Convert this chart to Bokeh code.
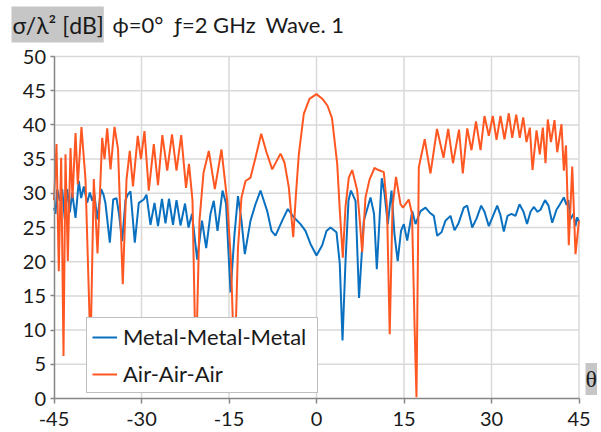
from bokeh.plotting import figure
from bokeh.models import FixedTicker, Label, Legend, LegendItem, LinearAxis, Grid, Range1d
from bokeh.embed import file_html
from bokeh.resources import INLINE

# ---------------- data ----------------
theta_metal = [
    -45.0, -44.74, -44.45, -44.00, -43.59, -43.15, -42.74, -42.29, -41.88, -41.31,
    -40.75, -40.34, -39.89, -39.31, -38.86, -38.45, -38.06, -37.59, -36.91, -36.51,
    -36.17, -35.43, -34.85, -34.29, -33.86, -33.31, -32.74, -32.35, -31.89, -31.15,
    -30.46, -29.61, -29.14, -28.46, -27.77, -27.17, -26.49, -25.89, -25.29, -24.60,
    -24.00, -23.31, -22.54, -21.94, -21.34, -20.45, -19.63, -18.91, -18.17, -17.61,
    -16.97, -16.11, -15.51, -14.74, -14.06, -13.46, -12.86, -12.29, -11.31, -10.46,
    -9.60, -8.45, -7.71, -7.03, -5.88, -4.92, -3.89, -2.74, -1.89, -1.03,
    0.0, 0.98, 1.71, 2.40, 3.43, 3.99, 4.46, 4.97, 5.49, 5.91,
    6.69, 7.29, 8.11, 9.26, 9.86, 10.34, 11.19, 11.66, 12.22, 12.86,
    13.37, 13.92, 14.49, 14.97, 15.55, 16.41, 16.97, 17.83, 18.69, 19.37,
    20.11, 20.69, 21.43, 22.11, 22.97, 23.66, 24.34, 25.25, 25.83, 26.69,
    27.43, 28.23, 28.80, 29.54, 30.26, 30.98, 31.54, 32.11, 32.74, 33.43,
    34.11, 34.80, 35.49, 36.09, 36.69, 37.25, 37.89, 38.40, 39.17, 39.77,
    40.41, 41.14, 41.66, 42.40, 42.86, 43.17, 43.54, 44.06, 44.40, 44.69,
    45.0,
]
db_metal = [
    27.9, 27.0, 30.6, 28.9, 30.6, 26.2, 30.6, 27.2, 30.1, 26.4,
    31.8, 29.3, 31.0, 28.6, 30.1, 28.9, 29.8, 26.2, 30.6, 29.8,
    28.5, 22.8, 29.1, 29.3, 27.0, 23.0, 29.0, 29.8, 30.3, 22.8,
    28.6, 29.1, 29.8, 25.4, 28.6, 25.2, 29.2, 25.6, 29.2, 25.4,
    29.0, 25.3, 28.5, 25.0, 27.0, 20.3, 26.0, 22.0, 27.0, 28.9,
    24.5, 30.4, 28.5, 15.5, 24.0, 29.6, 26.0, 21.1, 26.0, 28.4,
    30.4, 27.4, 24.5, 23.8, 26.0, 27.7, 26.5, 25.5, 24.5, 22.6,
    20.9, 22.4, 24.5, 25.0, 24.3, 19.7, 8.5, 20.0, 29.0, 30.4,
    28.9, 14.7, 26.0, 29.4, 27.0, 18.9, 32.2, 30.0, 25.5, 30.4,
    24.0, 20.1, 24.5, 25.5, 23.1, 27.4, 25.5, 27.4, 27.9, 27.2,
    26.7, 23.8, 24.3, 26.0, 26.7, 24.6, 25.6, 27.9, 28.2, 25.0,
    26.3, 28.2, 27.3, 25.2, 26.7, 28.2, 26.8, 24.4, 26.7, 27.0,
    26.7, 28.4, 27.3, 25.5, 27.3, 28.0, 27.3, 27.6, 29.0, 28.2,
    25.7, 27.6, 28.3, 29.4, 28.3, 29.0, 26.2, 27.0, 25.2, 26.5,
    25.8,
]

theta_air = [
    -45.0, -44.57, -44.18, -43.77, -43.37, -43.03, -42.63, -42.17, -41.83, -41.31,
    -40.92, -40.29, -39.60, -38.74, -38.18, -37.54, -36.74, -36.34, -35.88, -35.31,
    -34.63, -34.03, -33.21, -32.57, -32.01, -31.46, -30.64, -30.09, -29.49, -28.75,
    -27.89, -27.17, -26.43, -25.59, -24.77, -24.00, -23.19, -22.37, -21.86, -21.26,
    -20.69, -20.06, -19.37, -18.46, -17.43, -16.29, -15.31, -14.66, -14.06, -13.46,
    -12.86, -12.17, -11.31, -10.46, -9.48, -8.57, -7.59, -6.17, -5.49, -4.75,
    -3.99, -3.51, -3.03, -2.18, -1.20, 0.0, 1.03, 1.89, 2.66, 3.55,
    4.03, 4.51, 4.97, 5.54, 6.12, 6.98, 7.42, 7.83, 8.40, 9.09,
    9.94, 10.63, 11.54, 12.09, 12.55, 13.03, 13.63, 14.40, 14.83, 15.82,
    16.37, 16.80, 17.14, 17.54, 18.55, 19.54, 20.66, 21.77, 22.58, 23.40,
    24.43, 25.08, 25.84, 26.57, 27.34, 28.12, 28.80, 29.54, 30.22, 30.86,
    31.54, 32.23, 32.97, 33.55, 34.24, 34.85, 35.44, 36.00, 36.57, 37.03,
    37.72, 38.28, 38.80, 39.26, 39.65, 40.20, 40.80, 41.27, 42.00, 42.40,
    42.77, 43.25, 43.84, 44.40, 45.0,
]
db_air = [
    29.0, 37.2, 18.6, 35.2, 6.2, 35.7, 20.1, 36.6, 29.3, 38.8,
    31.3, 39.7, 32.0, 7.0, 32.1, 21.2, 38.1, 35.0, 39.5, 33.5,
    39.7, 36.5, 16.7, 32.0, 36.2, 31.0, 38.4, 35.0, 39.1, 30.4,
    37.2, 31.2, 38.5, 33.3, 38.6, 33.3, 38.5, 30.8, 34.3, 29.0,
    4.0, 26.0, 33.0, 36.2, 30.6, 36.4, 28.9, 20.0, 3.5, 22.0,
    29.4, 31.8, 32.3, 35.2, 38.7, 36.0, 33.5, 35.8, 34.5, 30.9,
    23.6, 30.0, 35.7, 41.6, 43.8, 44.5, 43.8, 42.8, 41.0, 34.3,
    27.0, 20.6, 28.0, 32.3, 33.4, 30.4, 26.0, 21.4, 29.4, 32.0,
    33.7, 33.4, 33.1, 28.0, 9.4, 28.0, 32.4, 28.4, 27.9, 29.1,
    27.0, 11.0, 0.2, 33.8, 37.9, 32.9, 39.4, 35.2, 39.4, 34.4,
    39.3, 32.9, 39.5, 36.3, 40.5, 36.3, 41.3, 38.4, 41.3, 37.8,
    41.3, 37.9, 41.7, 38.1, 41.5, 38.1, 41.1, 37.5, 39.6, 33.4,
    39.2, 35.7, 39.6, 34.4, 40.8, 37.5, 40.7, 36.0, 40.1, 33.3,
    37.0, 22.4, 33.9, 21.1, 26.0,
]

x_ticks = [-45, -30, -15, 0, 15, 30, 45]
y_ticks = [0, 5, 10, 15, 20, 25, 30, 35, 40, 45, 50]
series_names = ["Metal-Metal-Metal", "Air-Air-Air"]
title_parts = ["σ/λ² [dB]", "ϕ=0°", "ƒ=2 GHz", "Wave. 1"]
x_name = "θ"

# ---------------- style / layout ----------------
FONT = "Lato"
BLUE = "#0a70c0"
ORANGE = "#ff5722"
GRID = "#d9d9d9"
AXIS = "#868686"
BOXGRAY = "#c6c6c6"
TXT = "#1a1a1a"

W, H = 601, 432
# pixel box of the plotting area inside the canvas
F_LEFT, F_RIGHT, F_TOP, F_BOTTOM = 53.5, 578.5, 56.0, 398.0
X0, X1 = x_ticks[0], x_ticks[-1]
Y0, Y1 = y_ticks[0], y_ticks[-1]
ppx = (F_RIGHT - F_LEFT) / (X1 - X0)
ppy = (F_BOTTOM - F_TOP) / (Y1 - Y0)
xr = Range1d(X0 - F_LEFT / ppx, X1 + (W - F_RIGHT) / ppx)
yr = Range1d(Y0 - (H - F_BOTTOM) / ppy, Y1 + F_TOP / ppy)

p = figure(width=W, height=H, x_range=xr, y_range=yr,
           x_axis_location=None, y_axis_location=None, min_border=0,
           output_backend="svg", toolbar_location=None)
p.center = [r for r in p.center if not isinstance(r, Grid)]
p.outline_line_color = None
p.background_fill_color = "white"
p.border_fill_color = "white"

# grid lines (from the tick lists)
p.segment(x0=x_ticks[1:], y0=[Y0] * (len(x_ticks) - 1), x1=x_ticks[1:], y1=[Y1] * (len(x_ticks) - 1),
          line_color=GRID, line_width=1.5)
p.segment(x0=[X0] * (len(y_ticks) - 1), y0=y_ticks[1:], x1=[X1] * (len(y_ticks) - 1), y1=y_ticks[1:],
          line_color=GRID, line_width=1.5)

# axes drawn at the data origin
xax = LinearAxis(fixed_location=Y0, ticker=FixedTicker(ticks=x_ticks), bounds=(X0, X1),
                 major_label_overrides={t: str(t) for t in x_ticks})
yax = LinearAxis(fixed_location=X0, ticker=FixedTicker(ticks=y_ticks), bounds=(Y0, Y1))
for ax in (xax, yax):
    ax.axis_line_color = AXIS
    ax.axis_line_width = 1.5
    ax.major_tick_line_color = AXIS
    ax.major_tick_line_width = 1.5
    ax.minor_tick_line_color = None
    ax.major_tick_in = 0
    ax.major_label_text_font = FONT
    ax.major_label_text_font_size = "20px"
    ax.major_label_text_color = TXT
xax.major_tick_out = 5
yax.major_tick_out = 4
xax.major_label_standoff = 8
yax.major_label_standoff = 4
p.add_layout(xax, "below")
p.add_layout(yax, "left")

r_metal = p.line(theta_metal, db_metal, line_color=BLUE, line_width=2)
r_air = p.line(theta_air, db_air, line_color=ORANGE, line_width=2)

legend = Legend(items=[LegendItem(label=series_names[0], renderers=[r_metal]),
                       LegendItem(label=series_names[1], renderers=[r_air])],
                location=(86, H - 393))
legend.label_text_font = FONT
legend.label_text_font_size = "22px"
legend.label_text_color = TXT
legend.glyph_width = 25
legend.glyph_height = 20
legend.label_height = 24
legend.label_width = 189
legend.label_standoff = 6
legend.spacing = 10
legend.padding = 5
legend.margin = 0
legend.border_line_color = "#7f7f7f"
legend.border_line_width = 1.5
legend.background_fill_color = "white"
legend.background_fill_alpha = 1.0
p.add_layout(legend, "center")

# title row and axis name (screen units: canvas pixels, y measured up from bottom)
for xx, t in zip([112, 174, 265], title_parts[1:]):
    p.add_layout(Label(x=xx, y=H - 24, x_units="screen", y_units="screen", text=t,
                       text_font=FONT, text_font_size="22px", text_color=TXT,
                       text_baseline="middle"))
p.add_layout(Label(x=585, y=H - 378.5, x_units="screen", y_units="screen", text=x_name,
                   text_font="Liberation Serif", text_font_size="24px", text_color=TXT,
                   text_baseline="middle", background_fill_color=BOXGRAY,
                   padding=(0, 3)))
p.add_layout(Label(x=11, y=H - 24, x_units="screen", y_units="screen", text=title_parts[0],
                   text_font=FONT, text_font_size="23px", text_color=TXT,
                   text_baseline="middle", background_fill_color=BOXGRAY,
                   padding=(1, 4)))

open("out.html", "w").write(file_html(p, INLINE))
